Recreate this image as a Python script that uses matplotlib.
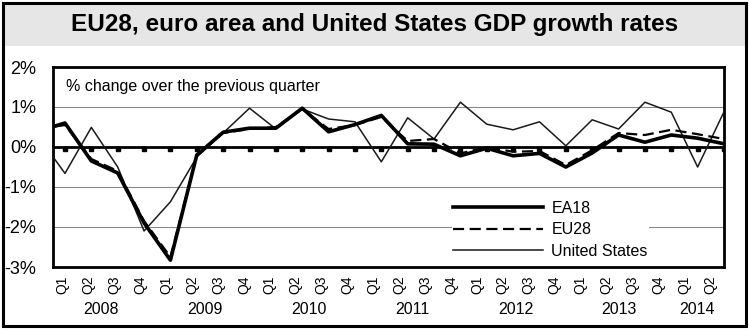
import numpy as np
import matplotlib
matplotlib.use('Agg')
import matplotlib.pyplot as plt
import matplotlib.transforms as mtransforms
from matplotlib.patches import Rectangle
from matplotlib import font_manager

plt.rcParams['font.family'] = ['Liberation Sans', 'DejaVu Sans']

# narrow face for the title if it's there
names = {f.name for f in font_manager.fontManager.ttflist}
title_font = 'Liberation Sans Narrow' if 'Liberation Sans Narrow' in names else 'Liberation Sans'

title = 'EU28, euro area and United States GDP growth rates'
note = '% change over the previous quarter'
years = ['2008', '2009', '2010', '2011', '2012', '2013', '2014']
quarter_labels = ['Q1', 'Q2', 'Q3', 'Q4'] * 6 + ['Q1', 'Q2']
series_names = ['EA18', 'EU28', 'United States']

# quarterly growth, 2007Q4 .. 2014Q2 (2007Q4 only shows at the left edge)
ea18 = [0.4, 0.6, -0.35, -0.65, -1.9, -2.83, -0.2, 0.37, 0.47, 0.47, 0.97, 0.38, 0.56,
        0.79, 0.08, 0.07, -0.22, -0.03, -0.22, -0.16, -0.5, -0.15, 0.3, 0.12, 0.3, 0.22, 0.08]
eu28 = [0.45, 0.55, -0.3, -0.6, -1.85, -2.75, -0.2, 0.35, 0.45, 0.5, 0.95, 0.45, 0.55,
        0.75, 0.15, 0.2, -0.16, 0.0, -0.12, -0.1, -0.45, -0.08, 0.35, 0.3, 0.43, 0.32, 0.2]
us = [0.25, -0.66, 0.49, -0.5, -2.1, -1.37, -0.25, 0.35, 0.97, 0.45, 0.95, 0.7, 0.63,
      -0.37, 0.73, 0.2, 1.12, 0.57, 0.43, 0.63, 0.03, 0.68, 0.45, 1.12, 0.87, -0.5, 0.88]

x = np.arange(len(ea18)) - 1
xq = np.arange(len(quarter_labels))

W, H = 749, 331
fig = plt.figure(figsize=(W / 100, H / 100), dpi=100)

# title band + outer frame
fig.patches.append(Rectangle((3 / W, 1 - 46 / H), 742 / W, 43 / H, transform=fig.transFigure,
                             facecolor='#e6e6e6', edgecolor='none', zorder=0))
fig.patches.append(Rectangle((2.5 / W, 5 / H), 743 / W, 323.5 / H, transform=fig.transFigure,
                             fill=False, edgecolor='black', lw=2.2, zorder=5))
fig.text(0.5, 1 - 24 / H, title, ha='center', va='center', fontsize=17.5, fontweight='bold',
         family=[title_font, 'DejaVu Sans'])

ax = fig.add_axes([53 / W, 1 - 267 / H, 671 / W, 200 / H])
ax.set_xlim(-0.455, 25)
ax.set_ylim(-3, 2)

ax.yaxis.grid(True, color='#8a8a8a', lw=0.8)
ax.set_axisbelow(True)
ax.axhline(0, color='black', lw=2, zorder=2)
dots = mtransforms.offset_copy(ax.transData, fig=fig, y=-2.5, units='dots')
ax.plot(xq, np.zeros(len(xq)), ls='none', marker='s', ms=2.6, color='black', transform=dots, zorder=2)

l_us, = ax.plot(x, us, color='#1a1a1a', lw=1.1, zorder=3)
l_eu, = ax.plot(x, eu28, color='black', lw=1.6, dashes=(5, 2.5), zorder=4)
l_ea, = ax.plot(x, ea18, color='black', lw=2.6, zorder=5)

for s in ax.spines.values():
    s.set_linewidth(2)

ax.set_yticks([-3, -2, -1, 0, 1, 2], [f'{v}%' for v in [-3, -2, -1, 0, 1, 2]], fontsize=13)
tick_x = np.linspace(-0.09, 24.47, len(quarter_labels))
ax.set_xticks(tick_x, quarter_labels, rotation=90, fontsize=10)
ax.tick_params(length=0)
ax.tick_params(axis='y', pad=12)
ax.tick_params(axis='x', pad=6)

yr = mtransforms.blended_transform_factory(ax.transData, ax.transAxes)
for k, y in enumerate(years):
    pos = tick_x[4 * k:4 * k + 4].mean()
    ax.text(pos, -0.215, y, transform=yr, ha='center', va='center', fontsize=11.5)

ax.text(0.02, 0.9, note, transform=ax.transAxes, ha='left', va='center', fontsize=11.5)

ax.legend([l_ea, l_eu, l_us], series_names, loc='upper left', bbox_to_anchor=(0.582, 0.38),
          frameon=True, facecolor='white', edgecolor='none', framealpha=1, fancybox=False,
          borderpad=0.1, handlelength=5.6, handletextpad=0.55, labelspacing=0.41, fontsize=11.5)

fig.savefig('out.png', dpi=100)
